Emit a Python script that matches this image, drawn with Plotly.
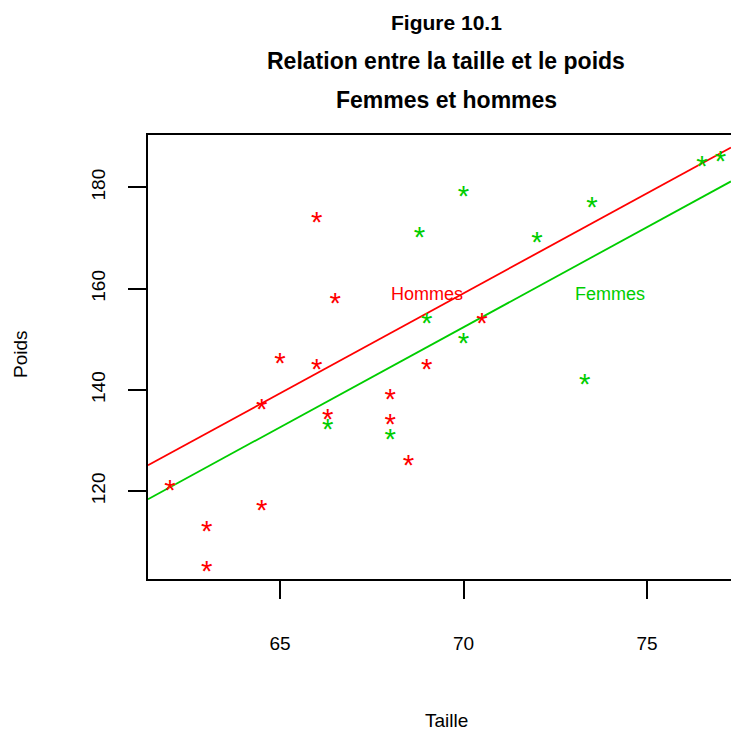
import plotly.graph_objects as go

# ---- data ----
hommes_taille = [62, 63, 63, 64.5, 64.5, 65, 66, 66, 66.3, 66.5, 68, 68, 68.5, 69, 70.5]
hommes_poids = [121, 113, 105, 137, 117, 146, 174, 145, 135, 158, 139, 134, 126, 145, 154]
femmes_taille = [66.3, 68, 68.8, 69, 70, 70, 72, 73.3, 73.5, 76.5, 77]
femmes_poids = [133, 131, 171, 154, 179, 150, 170, 142, 177, 185, 186]

pente = 3.95
ordonnee_hommes = -117.4
ordonnee_femmes = -124.1

x_ticks = [65, 70, 75]
y_ticks = [120, 140, 160, 180]
x_range = [61.40, 77.29]
y_range = [102.67, 190.36]

titres = ["Figure 10.1", "Relation entre la taille et le poids", "Femmes et hommes"]
etiquettes = [("Hommes", 69, 159, "#FF0000"), ("Femmes", 74, 159, "#00CD00")]

ROUGE = "#FF0000"
VERT = "#00CD00"
FONT = "Liberation Sans, Arial, sans-serif"

W, H = 731, 730
ML, MR, MT, MB = 148, 0, 135, 151
plot_w = W - ML - MR
plot_h = H - MT - MB


def px_to_paper(px, py):
    return (px - ML) / plot_w, (H - MB - py) / plot_h


fig = go.Figure()

# regression lines
for b0, col in [(ordonnee_hommes, ROUGE), (ordonnee_femmes, VERT)]:
    xs = x_range
    ys = [b0 + pente * v for v in xs]
    fig.add_trace(go.Scatter(x=xs, y=ys, mode="lines",
                             line=dict(color=col, width=1.8), hoverinfo="skip",
                             showlegend=False))

# points as asterisks (superscript keeps the glyph centred on the point)
for xs, ys, col in [(hommes_taille, hommes_poids, ROUGE), (femmes_taille, femmes_poids, VERT)]:
    fig.add_trace(go.Scatter(x=xs, y=ys, mode="text", text=["<sup>*</sup>"] * len(xs),
                             textposition="bottom center",
                             textfont=dict(family=FONT, size=42, color=col),
                             showlegend=False, cliponaxis=False, hoverinfo="skip"))

for txt, x, y, col in etiquettes:
    fig.add_annotation(x=x, y=y, xref="x", yref="y", text=txt, showarrow=False,
                       font=dict(family=FONT, size=18, color=col),
                       xanchor="center", yanchor="middle")

title_y = [23, 61, 100]
title_size = [21, 23, 23]
for txt, py, fs in zip(titres, title_y, title_size):
    ax, ay = px_to_paper(446, py)
    fig.add_annotation(x=ax, y=ay, xref="paper", yref="paper", text="<b>" + txt + "</b>",
                       showarrow=False, font=dict(family=FONT, size=fs, color="black"),
                       xanchor="center", yanchor="middle")

# axis titles
ax, ay = px_to_paper(446, 720)
fig.add_annotation(x=ax, y=ay, xref="paper", yref="paper", text="Taille", showarrow=False,
                   font=dict(family=FONT, size=19, color="black"),
                   xanchor="center", yanchor="middle")
ax, ay = px_to_paper(20, 354)
fig.add_annotation(x=ax, y=ay, xref="paper", yref="paper", text="Poids", showarrow=False,
                   textangle=-90, font=dict(family=FONT, size=19, color="black"),
                   xanchor="center", yanchor="middle")

fig.update_layout(
    width=W, height=H,
    margin=dict(l=ML, r=MR, t=MT, b=MB, autoexpand=False),
    plot_bgcolor="white", paper_bgcolor="white",
    showlegend=False,
)

fig.update_xaxes(range=x_range, tickvals=x_ticks, ticktext=[str(v) for v in x_ticks],
                 showgrid=False, zeroline=False, showline=True, linecolor="black", linewidth=2,
                 mirror=True, ticks="outside", ticklen=18, tickwidth=2, tickcolor="black",
                 tickfont=dict(family=FONT, size=19, color="black"), ticklabelstandoff=28)
fig.update_yaxes(range=y_range, tickvals=y_ticks, ticktext=[str(v) for v in y_ticks],
                 showgrid=False, zeroline=False, showline=True, linecolor="black", linewidth=2,
                 mirror=False, ticks="outside", ticklen=18, tickwidth=2, tickcolor="black",
                 tickangle=-90, tickfont=dict(family=FONT, size=19, color="black"),
                 ticklabelstandoff=15)

fig.write_html("out.html", config={"displayModeBar": False},
               post_script="document.body.style.margin='0';document.body.style.overflow='hidden';")
